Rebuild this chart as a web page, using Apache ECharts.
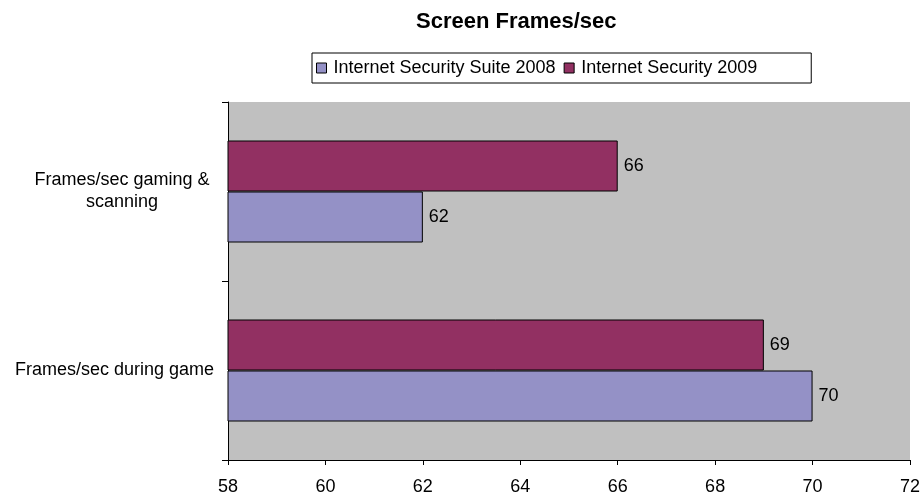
<!DOCTYPE html>
<html>
<head>
<meta charset="utf-8">
<script src="https://cdn.jsdelivr.net/npm/echarts@6/dist/echarts.min.js"></script>
<style>
  html, body { margin: 0; padding: 0; background: #fff; }
  #chart { width: 923px; height: 496px; }
</style>
</head>
<body>
<div id="chart"></div>
<script>
// Categories listed bottom-to-top along the vertical axis
const categories = ['Frames/sec during game', 'Frames/sec gaming &\nscanning'];
const suite2008 = [70, 62];
const security2009 = [69, 66];
const xTicks = { min: 58, max: 72, interval: 2 };

const FONT = 'Liberation Sans, Arial, sans-serif';

const chart = echarts.init(document.getElementById('chart'));
chart.setOption({
  animation: false,
  backgroundColor: '#ffffff',
  textStyle: { fontFamily: FONT },
  title: {
    text: 'Screen Frames/sec',
    left: 416,
    top: 11,
    padding: 0,
    textStyle: { fontFamily: FONT, fontSize: 22, fontWeight: 'bold', color: '#000' }
  },
  legend: {
    left: 312,
    top: 53,
    padding: [6, 54, 6, 4],
    itemGap: 8,
    itemWidth: 10,
    itemHeight: 10,
    borderColor: '#000',
    borderWidth: 1,
    borderRadius: 0,
    icon: 'rect',
    textStyle: { fontFamily: FONT, fontSize: 18, color: '#000', padding: [0, 0, 0, 2] },
    itemStyle: { borderColor: '#000', borderWidth: 1 },
    data: ['Internet Security Suite 2008', 'Internet Security 2009']
  },
  grid: {
    left: 228, right: 13, top: 102, bottom: 36,
    show: true,
    backgroundColor: '#C0C0C0',
    borderWidth: 0
  },
  xAxis: {
    type: 'value',
    min: xTicks.min,
    max: xTicks.max,
    interval: xTicks.interval,
    axisLine: { show: true, lineStyle: { color: '#000', width: 1 } },
    axisTick: { show: true, length: 5, lineStyle: { color: '#000' } },
    splitLine: { show: false },
    axisLabel: { color: '#000', fontSize: 18, fontFamily: FONT, margin: 18 }
  },
  yAxis: {
    type: 'category',
    data: categories,
    axisLine: { show: true, lineStyle: { color: '#000', width: 1 } },
    axisTick: { show: true, length: 6, lineStyle: { color: '#000' } },
    splitLine: { show: false },
    axisLabel: {
      color: '#000', fontSize: 18, fontFamily: FONT,
      align: 'right', margin: 14,
      formatter: function (value) {
        const lines = value.split('\n');
        if (lines.length === 1) return '{s|' + value + '}';
        return lines.map(function (l) { return '{m|' + l + '}'; }).join('\n');
      },
      rich: {
        s: { fontSize: 18, fontFamily: FONT, color: '#000', lineHeight: 22 },
        m: { fontSize: 18, fontFamily: FONT, color: '#000', lineHeight: 22, width: 184, align: 'center' }
      }
    }
  },
  series: [
    {
      name: 'Internet Security 2009',
      type: 'bar',
      data: security2009,
      barWidth: 51,
      barGap: '0%',
      itemStyle: { color: '#923062', borderColor: '#000', borderWidth: 1 },
      label: { show: true, position: 'right', distance: 6, color: '#000', fontSize: 18, fontFamily: FONT }
    },
    {
      name: 'Internet Security Suite 2008',
      type: 'bar',
      data: suite2008,
      barWidth: 51,
      barGap: '0%',
      itemStyle: { color: '#9491C6', borderColor: '#000', borderWidth: 1 },
      label: { show: true, position: 'right', distance: 6, color: '#000', fontSize: 18, fontFamily: FONT }
    }
  ]
});
</script>
</body>
</html>
